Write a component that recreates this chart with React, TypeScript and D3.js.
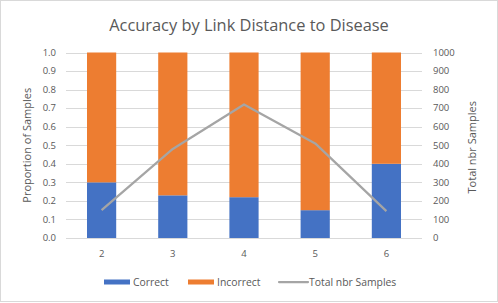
import React from "react";
import * as d3 from "d3";

const categories = ["2", "3", "4", "5", "6"];
const correct = [0.3, 0.23, 0.22, 0.15, 0.4];
const incorrect = [0.7, 0.77, 0.78, 0.85, 0.6];
const totalSamples = [150, 480, 720, 510, 145];
const leftTicks = [0, 0.1, 0.2, 0.3, 0.4, 0.5, 0.6, 0.7, 0.8, 0.9, 1.0];
const rightTicks = [0, 100, 200, 300, 400, 500, 600, 700, 800, 900, 1000];

const W = 498;
const H = 303;
const plot = { left: 66, right: 422, top: 52.5, bottom: 238 };
const FONT = "'Open Sans', sans-serif";
const TEXT = "#595959";

export default function App() {
  const x = d3.scaleBand().domain(categories).range([plot.left, plot.right]).paddingInner(0.59).paddingOuter(0.295);
  const yL = d3.scaleLinear().domain([0, 1]).range([plot.bottom, plot.top]);
  const yR = d3.scaleLinear().domain([0, 1000]).range([plot.bottom, plot.top]);
  const line = d3
    .line<number>()
    .x((_, i) => (x(categories[i]) as number) + x.bandwidth() / 2)
    .y((d) => yR(d));

  return (
    <svg width={W} height={H} style={{ position: "absolute", left: 0, top: 0, display: "block" }} fontFamily={FONT}>
      <rect x={0} y={0} width={W} height={H} fill="#fff" />
      <rect x={0.5} y={0.5} width={497} height={301} fill="none" stroke="#d9d9d9" strokeWidth={1} />
      <text x={249} y={31} textAnchor="middle" fontSize={16.4} fill={TEXT}>
        Accuracy by Link Distance to Disease
      </text>
      {leftTicks.map((t) => (
        <line key={"g" + t} x1={plot.left} x2={plot.right} y1={Math.round(yL(t)) + 0.5} y2={Math.round(yL(t)) + 0.5} stroke="#d9d9d9" strokeWidth={1} />
      ))}
      {leftTicks.map((t) => (
        <text key={"l" + t} x={56} y={yL(t)} dy="0.35em" textAnchor="end" fontSize={9.5} fill={TEXT}>
          {t.toFixed(1)}
        </text>
      ))}
      {rightTicks.map((t) => (
        <text key={"r" + t} x={433} y={yR(t)} dy="0.35em" textAnchor="start" fontSize={9.5} fill={TEXT}>
          {t}
        </text>
      ))}
      <text transform={`translate(31,${(plot.top + plot.bottom) / 2}) rotate(-90)`} textAnchor="middle" fontSize={11} fill={TEXT}>
        Proportion of Samples
      </text>
      <text transform={`translate(476,${(plot.top + plot.bottom) / 2 + 2}) rotate(-90)`} textAnchor="middle" fontSize={11} fill={TEXT}>
        Total nbr Samples
      </text>
      {categories.map((c, i) => (
        <g key={"b" + c}>
          <rect x={x(c)} y={yL(correct[i])} width={x.bandwidth()} height={plot.bottom - yL(correct[i])} fill="#4472C4" />
          <rect
            x={x(c)}
            y={yL(correct[i] + incorrect[i])}
            width={x.bandwidth()}
            height={yL(correct[i]) - yL(correct[i] + incorrect[i])}
            fill="#ED7D31"
          />
          <text x={(x(c) as number) + x.bandwidth() / 2} y={254} dy="0.35em" textAnchor="middle" fontSize={9.5} fill={TEXT}>
            {c}
          </text>
        </g>
      ))}
      <path d={line(totalSamples) || ""} fill="none" stroke="#A5A5A5" strokeWidth={2.25} strokeLinejoin="round" />
      <g fontSize={10.4} fill={TEXT}>
        <rect x={104} y={279.5} width={26} height={5} fill="#4472C4" />
        <text x={133} y={282} dy="0.35em">Correct</text>
        <rect x={188} y={279.5} width={26} height={5} fill="#ED7D31" />
        <text x={217} y={282} dy="0.35em">Incorrect</text>
        <line x1={279} x2={308} y1={282} y2={282} stroke="#A5A5A5" strokeWidth={2.25} strokeLinecap="round" />
        <text x={309} y={282} dy="0.35em">Total nbr Samples</text>
      </g>
    </svg>
  );
}
